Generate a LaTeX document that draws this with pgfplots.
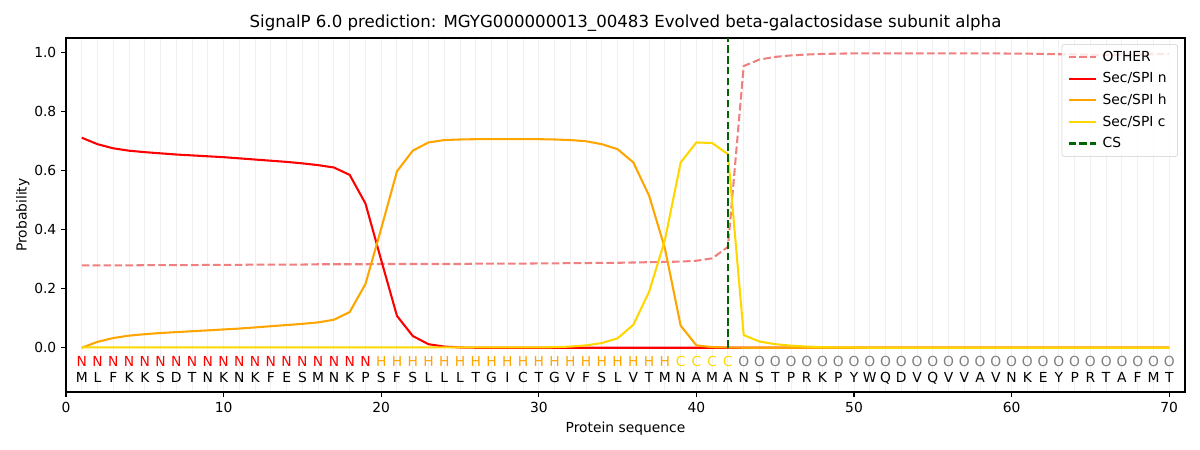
\documentclass[border=0pt]{standalone}
\usepackage{pgfplots}
\pgfplotsset{compat=1.18}
\usepackage{pgfplotstable}
\usepackage{fontspec}
\setmainfont{DejaVu Sans}
\definecolor{otherc}{HTML}{F08080}
\definecolor{secn}{HTML}{FF0000}
\definecolor{sech}{HTML}{FFA500}
\definecolor{secc}{HTML}{FFD700}
\definecolor{csc}{HTML}{006400}
\definecolor{gridc}{HTML}{F0F0F0}

\pgfplotstableread{
x other n h c
1 0.279 0.712 0.000 0.001
2 0.279 0.690 0.020 0.001
3 0.279 0.676 0.033 0.001
4 0.279 0.668 0.041 0.001
5 0.280 0.663 0.046 0.001
6 0.280 0.659 0.050 0.001
7 0.280 0.655 0.053 0.001
8 0.280 0.652 0.056 0.001
9 0.281 0.649 0.059 0.001
10 0.281 0.646 0.062 0.001
11 0.281 0.642 0.065 0.001
12 0.282 0.638 0.069 0.001
13 0.282 0.634 0.073 0.001
14 0.282 0.630 0.077 0.001
15 0.282 0.625 0.081 0.001
16 0.283 0.619 0.086 0.001
17 0.283 0.611 0.095 0.001
18 0.283 0.586 0.121 0.001
19 0.283 0.489 0.216 0.001
20 0.284 0.297 0.404 0.001
21 0.284 0.108 0.598 0.001
22 0.284 0.040 0.668 0.001
23 0.284 0.012 0.696 0.001
24 0.284 0.004 0.704 0.001
25 0.284 0.001 0.706 0.001
26 0.285 0.000 0.707 0.001
27 0.285 0.000 0.707 0.001
28 0.285 0.000 0.707 0.001
29 0.285 0.000 0.707 0.001
30 0.286 0.000 0.707 0.001
31 0.286 0.000 0.706 0.002
32 0.287 0.000 0.704 0.004
33 0.287 0.000 0.700 0.008
34 0.288 0.000 0.690 0.016
35 0.288 0.000 0.673 0.032
36 0.289 0.000 0.628 0.078
37 0.290 0.000 0.515 0.190
38 0.291 0.000 0.337 0.365
39 0.292 0.000 0.075 0.628
40 0.295 0.000 0.008 0.696
41 0.303 0.000 0.002 0.694
42 0.342 0.000 0.001 0.656
43 0.955 0.000 0.000 0.043
44 0.977 0.000 0.000 0.021
45 0.986 0.000 0.000 0.012
46 0.991 0.000 0.000 0.007
47 0.994 0.000 0.000 0.004
48 0.996 0.000 0.000 0.002
49 0.997 0.000 0.000 0.001
50 0.998 0.000 0.000 0.001
51 0.998 0.000 0.000 0.000
52 0.998 0.000 0.000 0.000
53 0.998 0.000 0.000 0.000
54 0.998 0.000 0.000 0.000
55 0.998 0.000 0.000 0.000
56 0.998 0.000 0.000 0.000
57 0.998 0.000 0.000 0.000
58 0.998 0.000 0.000 0.000
59 0.998 0.000 0.000 0.000
60 0.997 0.000 0.000 0.000
61 0.997 0.000 0.000 0.000
62 0.996 0.000 0.000 0.000
63 0.995 0.000 0.000 0.000
64 0.994 0.000 0.000 0.000
65 0.993 0.000 0.000 0.000
66 0.993 0.000 0.000 0.000
67 0.993 0.000 0.000 0.000
68 0.994 0.000 0.000 0.000
69 0.995 0.000 0.000 0.000
70 0.997 0.000 0.000 0.000
}\probs

\pgfplotstableread{
x y t
1 -0.047 N
2 -0.047 N
3 -0.047 N
4 -0.047 N
5 -0.047 N
6 -0.047 N
7 -0.047 N
8 -0.047 N
9 -0.047 N
10 -0.047 N
11 -0.047 N
12 -0.047 N
13 -0.047 N
14 -0.047 N
15 -0.047 N
16 -0.047 N
17 -0.047 N
18 -0.047 N
19 -0.047 N
}\labN

\pgfplotstableread{
x y t
20 -0.047 H
21 -0.047 H
22 -0.047 H
23 -0.047 H
24 -0.047 H
25 -0.047 H
26 -0.047 H
27 -0.047 H
28 -0.047 H
29 -0.047 H
30 -0.047 H
31 -0.047 H
32 -0.047 H
33 -0.047 H
34 -0.047 H
35 -0.047 H
36 -0.047 H
37 -0.047 H
38 -0.047 H
}\labH

\pgfplotstableread{
x y t
39 -0.047 C
40 -0.047 C
41 -0.047 C
42 -0.047 C
}\labC

\pgfplotstableread{
x y t
43 -0.047 O
44 -0.047 O
45 -0.047 O
46 -0.047 O
47 -0.047 O
48 -0.047 O
49 -0.047 O
50 -0.047 O
51 -0.047 O
52 -0.047 O
53 -0.047 O
54 -0.047 O
55 -0.047 O
56 -0.047 O
57 -0.047 O
58 -0.047 O
59 -0.047 O
60 -0.047 O
61 -0.047 O
62 -0.047 O
63 -0.047 O
64 -0.047 O
65 -0.047 O
66 -0.047 O
67 -0.047 O
68 -0.047 O
69 -0.047 O
70 -0.047 O
}\labO

\pgfplotstableread{
x y t
1 -0.102 M
2 -0.102 L
3 -0.102 F
4 -0.102 K
5 -0.102 K
6 -0.102 S
7 -0.102 D
8 -0.102 T
9 -0.102 N
10 -0.102 K
11 -0.102 N
12 -0.102 K
13 -0.102 F
14 -0.102 E
15 -0.102 S
16 -0.102 M
17 -0.102 N
18 -0.102 K
19 -0.102 P
20 -0.102 S
21 -0.102 F
22 -0.102 S
23 -0.102 L
24 -0.102 L
25 -0.102 L
26 -0.102 T
27 -0.102 G
28 -0.102 I
29 -0.102 C
30 -0.102 T
31 -0.102 G
32 -0.102 V
33 -0.102 F
34 -0.102 S
35 -0.102 L
36 -0.102 V
37 -0.102 T
38 -0.102 M
39 -0.102 N
40 -0.102 A
41 -0.102 M
42 -0.102 A
43 -0.102 N
44 -0.102 S
45 -0.102 T
46 -0.102 P
47 -0.102 R
48 -0.102 K
49 -0.102 P
50 -0.102 Y
51 -0.102 W
52 -0.102 Q
53 -0.102 D
54 -0.102 V
55 -0.102 Q
56 -0.102 V
57 -0.102 V
58 -0.102 A
59 -0.102 V
60 -0.102 N
61 -0.102 K
62 -0.102 E
63 -0.102 Y
64 -0.102 P
65 -0.102 R
66 -0.102 T
67 -0.102 A
68 -0.102 F
69 -0.102 M
70 -0.102 T
}\labS

\begin{document}
\begin{tikzpicture}
\useasboundingbox (-0.66in,-0.58in) rectangle (11.34in,3.92in);
\begin{axis}[
  at={(0,0)}, anchor=south west,
  scale only axis, width=11.19in, height=3.54in,
  xmin=0, xmax=71, ymin=-0.15, ymax=1.05,
  xtick={0,10,...,70},
  ytick={0,0.2,...,1.0},
  minor xtick={1,...,70},
  xminorgrids=true,
  minor grid style={color=gridc, line width=0.7pt},
  minor tick length=0pt,
  tick align=outside,
  major tick length=3.5pt,
  tick style={black, line width=0.8pt},
  xtick pos=bottom, ytick pos=left,
  axis line style={line width=0.8pt},
  /pgf/number format/assume math mode=true,
  ticklabel style={font=\fontsize{10}{12}\selectfont},
  yticklabel style={/pgf/number format/.cd, fixed, fixed zerofill, precision=1},
  xticklabel style={/pgf/number format/.cd, fixed, precision=0},
  scaled y ticks=false,
  title={SignalP 6.0 prediction: MGYG000000013\_00483 Evolved beta-galactosidase subunit alpha},
  title style={font=\fontsize{12}{14}\selectfont, yshift=-4.5pt},
  xlabel={Protein sequence},
  ylabel={Probability},
  ylabel shift=-3.5pt,
  label style={font=\fontsize{10}{12}\selectfont},
  clip=false,
  legend cell align=left,
  legend style={at={(rel axis cs:0.9937,0.983)}, anchor=north east,
    draw=black!20, rounded corners=2pt, fill=white, fill opacity=0.8, text opacity=1,
    font=\fontsize{10}{12}\selectfont, row sep=2.6pt, inner xsep=4pt, inner ysep=3pt,
    nodes={inner xsep=4pt}},
  legend image code/.code={\draw[#1] plot coordinates {(0cm,0cm) (0.7cm,0cm)};},
]
\addplot[color=otherc, line width=1.5pt, dash pattern=on 5.5pt off 2.4pt] table[x=x, y=other] {\probs};
\addlegendentry{OTHER}
\addplot[color=secn, line width=1.5pt] table[x=x, y=n] {\probs};
\addlegendentry{Sec/SPI n}
\addplot[color=sech, line width=1.5pt] table[x=x, y=h] {\probs};
\addlegendentry{Sec/SPI h}
\addplot[color=secc, line width=1.5pt] table[x=x, y=c] {\probs};
\addlegendentry{Sec/SPI c}
\addplot[color=csc, line width=1.5pt, dash pattern=on 5.5pt off 2.4pt] coordinates {(42,0) (42,1.05)};
\addlegendentry{CS}

\addplot[forget plot, draw=none, mark=none, nodes near coords, point meta=explicit symbolic,
  nodes near coords style={anchor=center, text=secn, font=\fontsize{10}{12}\selectfont, inner sep=0pt}]
  table[x=x, y=y, meta=t] {\labN};
\addplot[forget plot, draw=none, mark=none, nodes near coords, point meta=explicit symbolic,
  nodes near coords style={anchor=center, text=sech, font=\fontsize{10}{12}\selectfont, inner sep=0pt}]
  table[x=x, y=y, meta=t] {\labH};
\addplot[forget plot, draw=none, mark=none, nodes near coords, point meta=explicit symbolic,
  nodes near coords style={anchor=center, text=secc, font=\fontsize{10}{12}\selectfont, inner sep=0pt}]
  table[x=x, y=y, meta=t] {\labC};
\addplot[forget plot, draw=none, mark=none, nodes near coords, point meta=explicit symbolic,
  nodes near coords style={anchor=center, text=gray, font=\fontsize{10}{12}\selectfont, inner sep=0pt}]
  table[x=x, y=y, meta=t] {\labO};
\addplot[forget plot, draw=none, mark=none, nodes near coords, point meta=explicit symbolic,
  nodes near coords style={anchor=center, text=black, font=\fontsize{10}{12}\selectfont, inner sep=0pt}]
  table[x=x, y=y, meta=t] {\labS};
\end{axis}
\end{tikzpicture}
\end{document}
